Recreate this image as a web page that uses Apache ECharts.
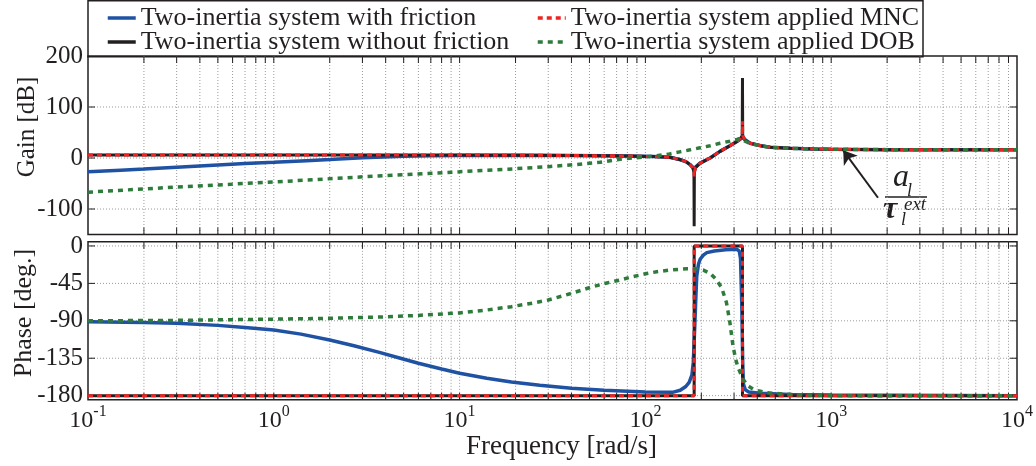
<!DOCTYPE html>
<html>
<head>
<meta charset="utf-8">
<script src="https://cdn.jsdelivr.net/npm/echarts@6/dist/echarts.min.js"></script>
<style>html,body{margin:0;padding:0;background:#fff}#c{width:1036px;height:466px}</style>
</head>
<body>
<div id="c"></div>
<script>
// ---------------- data ----------------
const seriesNames = [
  'Two-inertia system with friction',
  'Two-inertia system without friction',
  'Two-inertia system applied MNC',
  'Two-inertia system applied DOB'
];
// [frequency rad/s, gain dB]
const gainWithFriction = [[0.1,-27],[0.15,-23.8],[0.2,-21.5],[0.3,-18],[0.5,-13.5],[0.7,-11],[1,-8.5],[1.5,-5.2],[2,-3],[3,0.5],[5,3.2],[7,4.3],[10,5],[20,5.6],[40,5],[80,4],[110,2.8],[135,1.5],[153,-3],[165,-7],[174,-13],[180,-18],[183,-24],[186,-18],[197,-10],[223,0],[252,13],[285,24],[311,32.5],[325,37],[333,42],[341,37],[366,29],[418,24],[470,21],[600,19],[800,17.8],[1000,17.2],[2000,16.4],[5000,16.1],[10000,16]];
const gainWithoutFriction = [[0.1,6],[1,6],[10,5.8],[40,5],[80,4],[110,2.8],[135,1.5],[153,-3],[165,-7],[174,-13],[180,-19],[182.5,-28],[183,-134],[183.5,-28],[186,-19],[197,-10],[223,0],[252,13],[285,24],[311,32.5],[325,38],[332,44],[333,157],[334,44],[344,34.5],[366,29],[418,24],[470,21],[600,19],[800,17.8],[1000,17.2],[2000,16.4],[5000,16.1],[10000,16]];
const gainMNC = [[0.1,6],[1,6],[10,5.8],[40,5],[80,4],[110,2.8],[135,1.5],[153,-3],[165,-7],[174,-13],[180,-19],[182.5,-28],[183,-36],[183.5,-28],[186,-19],[197,-10],[223,0],[252,13],[285,24],[311,32.5],[325,38],[332,44],[333,72],[334,44],[344,34.5],[366,29],[418,24],[470,21],[600,19],[800,17.8],[1000,17.2],[2000,16.4],[5000,16.1],[10000,16]];
const gainDOB = [[0.1,-67],[0.3,-57],[1,-47],[3,-37],[10,-27],[20,-21],[30,-17],[42,-13],[57,-8.5],[73,-2.5],[85,0],[100,2],[124,6],[135,8],[153,12],[174,16],[197,20],[223,24],[252,29],[285,33],[311,36.5],[325,38.5],[333,38],[344,33],[366,28.5],[418,24],[470,21],[600,19],[800,17.8],[1000,17.2],[2000,16.4],[5000,16.1],[10000,16]];
// [frequency rad/s, phase deg]
const phaseWithFriction = [[0.1,-91],[0.2,-92],[0.3,-93],[0.5,-95.5],[0.7,-98],[1,-101],[1.4,-106],[2,-113],[2.7,-120],[3.7,-128],[4.8,-135],[6,-141],[8,-148],[10,-153],[14,-159],[19,-163.5],[27,-167.5],[40,-171],[60,-173.5],[100,-175.5],[140,-176],[154,-173.5],[165,-169],[172,-164],[178,-155],[181,-140],[183,-115],[185,-88],[187,-60],[189,-36],[193,-22],[197,-16],[205,-11],[214,-8],[235,-6],[270,-4.5],[310,-4],[320,-6],[325,-15],[330,-68],[334,-140],[337,-166],[345,-173],[360,-175.5],[414,-177],[600,-178.5],[1000,-179.3],[10000,-180]];
const phaseWithoutFriction = [[0.1,-180],[183,-180],[183,0],[333,0],[333,-180],[10000,-180]];
const phaseMNC = [[0.1,-180],[183,-180],[183,0],[333,0],[333,-180],[10000,-180]];
const phaseDOB = [[0.1,-90],[0.3,-89.5],[1,-88],[2,-87],[3.7,-85.5],[6,-83.5],[10,-80.5],[14,-77],[19,-73],[25,-68.5],[30,-65],[40,-57],[52,-49],[62,-44.5],[73,-41],[85,-37],[100,-33.5],[115,-31],[135,-29],[167,-27.5],[190,-27.5],[205,-29],[223,-33],[240,-40],[257,-50],[273,-68],[285,-92],[296,-120],[306,-136],[315,-146],[335,-160],[355,-168],[379,-172],[410,-174.5],[451,-176.5],[550,-178],[680,-179],[1000,-180],[10000,-180]];

const gainTickLabels = [200, 100, 0, -100];
const phaseTickLabels = [0, -45, -90, -135, -180];
const gainGridValues = [-100, 0, 100];
const phaseGridValues = [-180, -135, -90, -45, 0];
const decadeStarts = [0.1, 1, 10, 100, 1000];
const decadeSteps = [1, 2, 3, 4, 5, 6, 7, 8, 9];
const xGridValues = [];
decadeStarts.forEach(d => decadeSteps.forEach(m => { const v = +(d * m).toPrecision(3); if (v > 0.1) xGridValues.push(v); }));

// ---------------- style ----------------
const FONT = '"Liberation Serif","Times New Roman",serif';
const INK = '#231f20';
const GRIDC = '#9a9a9a';
const COLORS = ['#1f52a3', '#231f20', '#ee2424', '#2e7b3b'];
const X_MIN = 0.1, X_MAX = 10000;
const G_MIN = -150, G_MAX = 200, P_MIN = -185, P_MAX = 5;

function vGridSeries(ax, yMin, yMax) {
  return {
    type: 'custom', xAxisIndex: ax, yAxisIndex: ax, silent: true, z: 1,
    data: xGridValues.map(v => [v, yMin]),
    renderItem: (params, api) => {
      const x = api.value(0);
      const a = api.coord([x, yMax]);
      const b = api.coord([x, yMin]);
      return { type: 'group', children: [
        { type: 'line', shape: { x1: a[0], y1: a[1], x2: b[0], y2: b[1] }, style: { stroke: GRIDC, lineWidth: 1, lineDash: [1, 2] } },
        { type: 'line', shape: { x1: a[0], y1: a[1], x2: a[0], y2: a[1] + 7 }, style: { stroke: INK, lineWidth: 1 } },
        { type: 'line', shape: { x1: b[0], y1: b[1], x2: b[0], y2: b[1] - 7 }, style: { stroke: INK, lineWidth: 1 } }
      ] };
    }
  };
}
function hGridSeries(ax, values) {
  return {
    type: 'custom', xAxisIndex: ax, yAxisIndex: ax, silent: true, z: 1,
    data: values.map(v => [X_MIN, v]),
    renderItem: (params, api) => {
      const y = api.value(1);
      const a = api.coord([X_MIN, y]);
      const b = api.coord([X_MAX, y]);
      return { type: 'group', children: [
        { type: 'line', shape: { x1: a[0], y1: a[1], x2: b[0], y2: b[1] }, style: { stroke: GRIDC, lineWidth: 1, lineDash: [1, 2] } },
        { type: 'line', shape: { x1: a[0], y1: a[1], x2: a[0] + 7, y2: a[1] }, style: { stroke: INK, lineWidth: 1 } },
        { type: 'line', shape: { x1: b[0], y1: b[1], x2: b[0] - 7, y2: b[1] }, style: { stroke: INK, lineWidth: 1 } }
      ] };
    }
  };
}
const lineStyles = [
  { color: COLORS[0], width: 3.5, type: 'solid' },
  { color: COLORS[1], width: 3, type: 'solid' },
  { color: COLORS[2], width: 3, type: [5, 4] },
  { color: COLORS[3], width: 3.5, type: [5, 5] }
];
function lineSeries(i, ax, data, extra) {
  return Object.assign({
    name: seriesNames[i], type: 'line', xAxisIndex: ax, yAxisIndex: ax, data: data,
    symbol: 'none', showSymbol: false, silent: true, z: 2 + i,
    lineStyle: lineStyles[i], itemStyle: { color: COLORS[i] },
    emphasis: { disabled: true }
  }, extra || {});
}

const xAxisBase = {
  type: 'log', logBase: 10, min: X_MIN, max: X_MAX,
  axisLine: { show: false }, axisTick: { show: false }, splitLine: { show: false }, minorTick: { show: false }
};
const legendText = { fontFamily: FONT, fontSize: 26, color: INK, lineHeight: 23 };
const legendBase = { top: 0, orient: 'vertical', itemWidth: 28, itemHeight: 12, itemGap: -2,
  textStyle: legendText, selectedMode: false, itemStyle: { opacity: 0 }, lineStyle: { width: 3.5 } };

const option = {
  animation: false,
  backgroundColor: '#fff',
  grid: [
    { left: 88, width: 929, top: 56, height: 178.5, show: true, borderColor: INK, borderWidth: 1.5, backgroundColor: 'transparent' },
    { left: 88, width: 929, top: 241.8, height: 158, show: true, borderColor: INK, borderWidth: 1.5, backgroundColor: 'transparent' }
  ],
  xAxis: [
    Object.assign({ gridIndex: 0, axisLabel: { show: false } }, xAxisBase),
    Object.assign({ gridIndex: 1,
      name: 'Frequency [rad/s]', nameLocation: 'middle', nameGap: 31,
      nameTextStyle: { fontFamily: FONT, fontSize: 27, color: INK, padding: [0, 0, 0, 18] },
      axisLabel: {
        margin: 4,
        formatter: v => '{b|10}{e|' + Math.round(Math.log10(v)) + '}',
        rich: {
          b: { fontFamily: FONT, fontSize: 24, lineHeight: 34, color: INK },
          e: { fontFamily: FONT, fontSize: 16, lineHeight: 14, verticalAlign: 'top', color: INK }
        }
      } }, xAxisBase)
  ],
  yAxis: [
    { gridIndex: 0, type: 'value', min: G_MIN, max: G_MAX, interval: 50,
      axisLine: { show: false }, axisTick: { show: false }, splitLine: { show: false },
      axisLabel: { margin: 5, fontFamily: FONT, fontSize: 25, color: INK,
        formatter: v => gainTickLabels.indexOf(v) >= 0 ? String(v) : '' } },
    { gridIndex: 1, type: 'value', min: P_MIN, max: P_MAX, interval: 5,
      axisLine: { show: false }, axisTick: { show: false }, splitLine: { show: false },
      axisLabel: { margin: 5, fontFamily: FONT, fontSize: 25, color: INK,
        formatter: v => phaseTickLabels.indexOf(v) >= 0 ? String(v) : '' } }
  ],
  legend: [
    Object.assign({ left: 101, data: [seriesNames[0], seriesNames[1]] }, legendBase),
    Object.assign({ left: 531, data: [seriesNames[2], seriesNames[3]] }, legendBase)
  ],
  graphic: [
    { type: 'rect', z: -10, shape: { x: 88, y: 0.75, width: 835, height: 56 }, style: { fill: '#fff', stroke: INK, lineWidth: 1.5 } },
    { type: 'text', x: 27, y: 127, rotation: Math.PI / 2,
      style: { text: 'Gain [dB]', fontFamily: FONT, fontSize: 25, fill: INK, align: 'center', verticalAlign: 'middle' } },
    { type: 'text', x: 24, y: 313, rotation: Math.PI / 2,
      style: { text: 'Phase [deg.]', fontFamily: FONT, fontSize: 26, fill: INK, align: 'center', verticalAlign: 'middle' } },
    // annotation a_l / tau_l^ext
    { type: 'text', x: 901, y: 178, style: { text: 'a', fontFamily: FONT, fontStyle: 'italic', fontSize: 32, fill: INK, align: 'center', verticalAlign: 'middle' } },
    { type: 'text', x: 907, y: 191, style: { text: 'l', fontFamily: FONT, fontStyle: 'italic', fontSize: 18, fill: INK, align: 'left', verticalAlign: 'middle' } },
    { type: 'line', shape: { x1: 885, y1: 197, x2: 927, y2: 197 }, style: { stroke: INK, lineWidth: 1.5 } },
    { type: 'text', x: 883, y: 210, style: { text: 'τ', fontFamily: FONT, fontStyle: 'italic', fontWeight: 'bold', fontSize: 32, fill: INK, align: 'left', verticalAlign: 'middle' } },
    { type: 'text', x: 901, y: 220, style: { text: 'l', fontFamily: FONT, fontStyle: 'italic', fontSize: 18, fill: INK, align: 'left', verticalAlign: 'middle' } },
    { type: 'text', x: 904, y: 205, style: { text: 'ext', fontFamily: FONT, fontStyle: 'italic', fontSize: 19, fill: INK, align: 'left', verticalAlign: 'middle' } }
  ],
  series: [
    vGridSeries(0, G_MIN, G_MAX),
    hGridSeries(0, gainGridValues),
    vGridSeries(1, P_MIN, P_MAX),
    hGridSeries(1, phaseGridValues),
    lineSeries(0, 0, gainWithFriction),
    lineSeries(1, 0, gainWithoutFriction, {
      markLine: {
        silent: true, symbol: ['none', 'arrow'], symbolSize: 13,
        label: { show: false }, emphasis: { disabled: true },
        lineStyle: { color: INK, width: 2, type: 'solid' },
        data: [[{ coord: [1786, -78] }, { coord: [1160, 15] }]]
      }
    }),
    lineSeries(2, 0, gainMNC),
    lineSeries(3, 0, gainDOB),
    lineSeries(0, 1, phaseWithFriction),
    lineSeries(1, 1, phaseWithoutFriction),
    lineSeries(2, 1, phaseMNC),
    lineSeries(3, 1, phaseDOB)
  ]
};
const chart = echarts.init(document.getElementById('c'));
chart.setOption(option);
</script>
</body>
</html>
